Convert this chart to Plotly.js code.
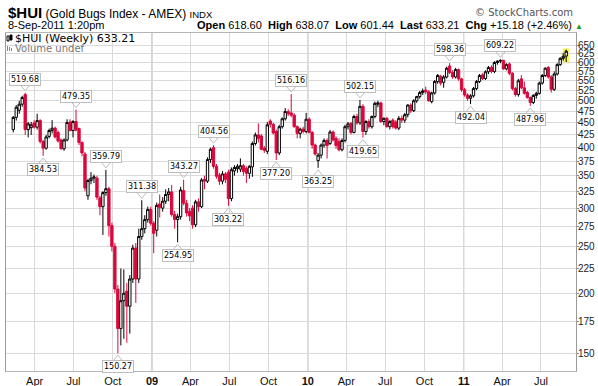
<!DOCTYPE html>
<html><head><meta charset="utf-8">
<script src="https://cdn.plot.ly/plotly-3.0.1.min.js"></script>
<style>html,body{margin:0;padding:0;background:#fff;}#chart{width:598px;height:386px;}</style>
</head><body><div id="chart"></div>
<script>
// Weekly bars, first week starting 2008-02-18
const firstWeek = '2008-02-18';
const opens = [436,462,478,492,515,436,440,450,441,455,
412,399,422,434,439,430,415,398,415,452,
434,453,438,410,388,318,342,346,346,315,
302,323,329,276,250,204,169,193,202,188,
214,248,214,262,272,284,298,279,270,306,
300,310,320,324,291,284,288,326,307,295,
300,277,309,302,344,341,378,400,366,351,
341,353,356,314,358,362,361,367,362,354,
365,408,425,423,399,393,454,447,432,390,
442,459,475,472,467,442,428,437,432,458,
430,405,376,386,405,414,408,431,418,412,
396,414,442,449,430,464,450,487,432,453,
442,464,492,495,453,460,442,456,452,439,
460,456,468,490,477,500,510,520,526,522,
498,519,548,562,546,560,590,572,560,580,
555,527,514,506,512,530,548,566,556,574,
586,575,600,604,606,582,596,570,530,515,
555,532,520,508,496,513,518,544,564,586,
560,528,568,594,612,618.60];
const highs = [465,490,500,512,519.68,452,452,456,470,458,
415,425,438,456,442,434,418,418,458,458,
456,479.35,440,412,392,345,356,352,350,318,
325,359.79,332,280,254,208,225,224,210,218,
252,254,272,311.38,290,302,302,282,308,320,
316,328,330,335,296,292,332,343.27,312,300,
304,312,314,346,350,382,400,404.56,370,355,
358,356,360,364,368,370,380,370,366,368,
412,430,449,427,403,452,458,450,436,446,
462,483,480,516.16,471,445,440,442,472,462,
433,408,390,408,418,418,435,434,422,418,
418,446,452,452,468,470,502.15,492,456,458,
466,498,500,498,462,463,456,460,456,465,
466,472,492,494,504,512,524,530,535,525,
522,552,568,566,565,588,598.36,578,585,583,
558,532,518,516,534,552,568,570,578,590,
592,604,606,609.22,608,598,600,573,534,555,
565,548,524,510,516,522,548,568,586,590,
565,575,598,615,628,638.07];
const lows = [430,455,470,486,425,420,425,438,436,408,
384.53,396,418,428,418,410,396,394,412,432,
420,432,405,384,325,312,336,338,312,290,
264,318,262,244,200,150.27,156,161,158,165,
210,191,210,258,266,280,276,242,262,287,
295,306,310,288,272,254.95,284,304,288,282,
272,274,295,300,328,338,372,362,345,335,
336,338,303.22,310,350,355,356,350,338,345,
348,404,410,395,390,388,440,426,377.20,386,
438,455,465,462,440,418,418,428,428,428,
398,385,363.25,380,400,380,405,412,398,393,
393,410,436,426,428,446,446,419.65,425,438,
438,460,485,450,445,440,436,438,436,435,
450,450,462,472,474,495,505,514,516,498,
494,515,542,538,532,556,568,555,556,550,
522,510,500,492.04,508,526,544,552,552,568,
570,570,594,598,580,578,565,525,510,510,
528,515,505,487.96,492,505,515,540,560,556,
520,524,564,590,605,601.44];
const closes = [462,485,492,508,436,448,446,441,455,412,
399,421,434,439,421,413,398,415,451,434,
453,435,410,390,330,342,346,348,316,302,
323,329,276,250,204,169,193,200,188,214,
248,214,262,272,284,298,279,266,304,301,
310,320,324,291,284,288,327,307,293,289,
277,309,302,343,341,378,397,366,349,341,
353,344,314,360,364,366,367,357,354,366,
408,425,418,397,395,446,447,429,390,442,
459,475,470,467,442,428,437,432,458,430,
405,388,386,405,414,404,431,415,404,396,
414,442,448,430,464,450,487,432,453,442,
464,494,495,453,460,442,453,442,439,460,
456,468,490,477,500,510,520,524,522,500,
519,548,564,544,560,584,572,560,580,555,
527,514,506,512,530,548,564,556,574,586,
575,600,604,606,582,594,570,530,515,550,
532,518,508,496,513,518,544,564,584,560,
528,568,594,612,618.03,633.21];
// Labelled swing highs / lows (bar indices)
const peakBars = [4,21,31,43,57,67,93,116,146,163];
const troughBars = [10,35,55,72,88,102,117,153,173];
// Axis ticks
const xTickDates = ['2008-04-08','2008-07-08','2008-10-08','2009-01-08','2009-04-08','2009-07-08','2009-10-08','2010-01-08','2010-04-08','2010-07-08','2010-10-08','2011-01-08','2011-04-08','2011-07-08'];
const xTickLabels = ['Apr','Jul','Oct','09','Apr','Jul','Oct','10','Apr','Jul','Oct','11','Apr','Jul'];
const yTickVals = [150,175,200,225,250,275,300,325,350,375,400,425,450,475,500,525,550,575,600,625,650];
// Header quote
const quote = {date:'8-Sep-2011 1:20pm', open:'618.60', high:'638.07', low:'601.44', last:'633.21', chg:'+15.18', pct:'+2.46%'};

const t0 = Date.UTC(2008,1,18);
const dates = opens.map((_, i) => new Date(t0 + i*7*86400000).toISOString().slice(0,10));
const RED = '#d9083c';
const isYear = l => /^\d\d$/.test(l);

const trace = {
  type:'candlestick', x:dates, open:opens, high:highs, low:lows, close:closes,
  increasing:{line:{color:'#000', width:1}, fillcolor:'#ffffff'},
  decreasing:{line:{color:RED, width:1}, fillcolor:RED},
  whiskerwidth:0, hoverinfo:'skip', showlegend:false
};

const shapes = [];
const annotations = [];
// year gridlines
xTickDates.forEach((d,k)=>{ if(isYear(xTickLabels[k])) shapes.push({type:'line', xref:'x', yref:'paper', x0:d, x1:d, y0:0, y1:1, line:{color:'#a8a8a8', width:1}, layer:'below'}); });
// highlight current bar
const L = dates.length-1;
shapes.push({type:'rect', xref:'x', yref:'y', xsizemode:'pixel', xanchor:dates[L], x0:-3.5, x1:3.5, y0:lows[L]*0.993, y1:highs[L]*1.006, fillcolor:'#f7f75a', line:{width:0}, layer:'below'});

const lblFont = {family:'DejaVu Sans', size:8, color:'#000'};
peakBars.forEach(i=>{
  annotations.push({x:dates[i], y:Math.log10(highs[i]), xref:'x', yref:'y', text:highs[i].toFixed(2), showarrow:false, yanchor:'bottom', yshift:7, font:lblFont, bgcolor:'#fff', bordercolor:'#bdbdbd', borderwidth:1, borderpad:1});
  shapes.push({type:'path', xref:'x', yref:'y', xsizemode:'pixel', ysizemode:'pixel', xanchor:dates[i], yanchor:highs[i], path:'M-5,8 L0,2 L5,8', line:{color:'#bdbdbd', width:1}});
});
troughBars.forEach(i=>{
  annotations.push({x:dates[i], y:Math.log10(lows[i]), xref:'x', yref:'y', text:lows[i].toFixed(2), showarrow:false, yanchor:'top', yshift:-7, font:lblFont, bgcolor:'#fff', bordercolor:'#bdbdbd', borderwidth:1, borderpad:1});
  shapes.push({type:'path', xref:'x', yref:'y', xsizemode:'pixel', ysizemode:'pixel', xanchor:dates[i], yanchor:lows[i], path:'M-5,-8 L0,-2 L5,-8', line:{color:'#bdbdbd', width:1}});
});

// header texts (plot area: x 6..576, y 33..371)
const px = v => (v-6)/570, py = v => (371-v)/338;
const hf = {family:'Liberation Sans, Arial', size:12, color:'#000'};
annotations.push({xref:'paper', yref:'paper', x:px(6), y:py(12), xanchor:'left', yanchor:'middle', showarrow:false, font:hf,
  text:'<span style="font-size:15px"><b>$HUI</b></span> (Gold Bugs Index - AMEX) <span style="font-size:9.5px">INDX</span>'});
annotations.push({xref:'paper', yref:'paper', x:px(6), y:py(24.5), xanchor:'left', yanchor:'middle', showarrow:false, font:{family:'Liberation Sans, Arial', size:11, color:'#000'}, text:quote.date});
annotations.push({xref:'paper', yref:'paper', x:px(195), y:py(24.5), xanchor:'left', yanchor:'middle', showarrow:false, font:{family:'Liberation Sans, Arial', size:11, color:'#000'},
  text:'<b>Open</b> '+quote.open+'  <b>High</b> '+quote.high+'  <b>Low</b> '+quote.low+'  <b>Last</b> '+quote.last+'  <b>Chg</b> '+quote.chg+' ('+quote.pct+') <span style="color:#1e9e1e;font-size:8px">▲</span>'});
annotations.push({xref:'paper', yref:'paper', x:px(575), y:py(13), xanchor:'right', yanchor:'middle', showarrow:false, font:{family:'DejaVu Sans', size:10, color:'#555'}, text:'© StockCharts.com'});
// in-chart legend
annotations.push({xref:'paper', yref:'paper', x:px(13), y:py(38.5), xanchor:'left', yanchor:'middle', showarrow:false, font:{family:'DejaVu Sans', size:11, color:'#000'}, text:'$HUI (Weekly) '+closes[L].toFixed(2)});
annotations.push({xref:'paper', yref:'paper', x:px(13), y:py(48.5), xanchor:'left', yanchor:'middle', showarrow:false, font:{family:'DejaVu Sans', size:10, color:'#777'}, text:'Volume undef'});
// legend icons
shapes.push({type:'rect', xref:'paper', yref:'paper', x0:px(7), x1:px(9), y0:py(41), y1:py(36), line:{color:'#000', width:1}, fillcolor:'#fff'});
shapes.push({type:'rect', xref:'paper', yref:'paper', x0:px(10), x1:px(12), y0:py(40), y1:py(35), line:{color:'#000', width:1}, fillcolor:'#000'});
[7,9,11].forEach((x,k)=>shapes.push({type:'rect', xref:'paper', yref:'paper', x0:px(x), x1:px(x+1), y0:py(51), y1:py(46+k), line:{width:0}, fillcolor:'#888'}));

const layout = {
  width:598, height:386, autosize:false,
  margin:{l:6, r:22, t:33, b:15, pad:0},
  paper_bgcolor:'#fff', plot_bgcolor:'#fff',
  boxgap:0.22, boxgroupgap:0,
  showlegend:false,
  xaxis:{type:'date', range:['2008-02-01','2011-09-28'], rangeslider:{visible:false},
    tickmode:'array', tickvals:xTickDates, ticktext:xTickLabels.map(l=>isYear(l)?'<b>'+l+'</b>':l),
    showgrid:true, gridcolor:'#dadada', gridwidth:1, ticks:'', zeroline:false,
    showline:true, mirror:true, linecolor:'#b5b5b5', linewidth:1,
    tickfont:{family:'Liberation Sans, Arial', size:11, color:'#111'}, fixedrange:true},
  yaxis:{type:'log', side:'right', range:[Math.log10(138.1), Math.log10(690.5)],
    tickmode:'array', tickvals:yTickVals, ticktext:yTickVals.map(String),
    showgrid:true, gridcolor:'#dadada', gridwidth:1, zeroline:false,
    ticks:'outside', ticklen:2, tickcolor:'#888', ticklabelstandoff:-3, showline:true, mirror:true, linecolor:'#9a9a9a', linewidth:1,
    tickfont:{family:'Liberation Sans, Arial', size:10, color:'#222'}, fixedrange:true},
  shapes:shapes, annotations:annotations
};
Plotly.newPlot('chart', [trace], layout, {displayModeBar:false, staticPlot:true});
</script></body></html>
